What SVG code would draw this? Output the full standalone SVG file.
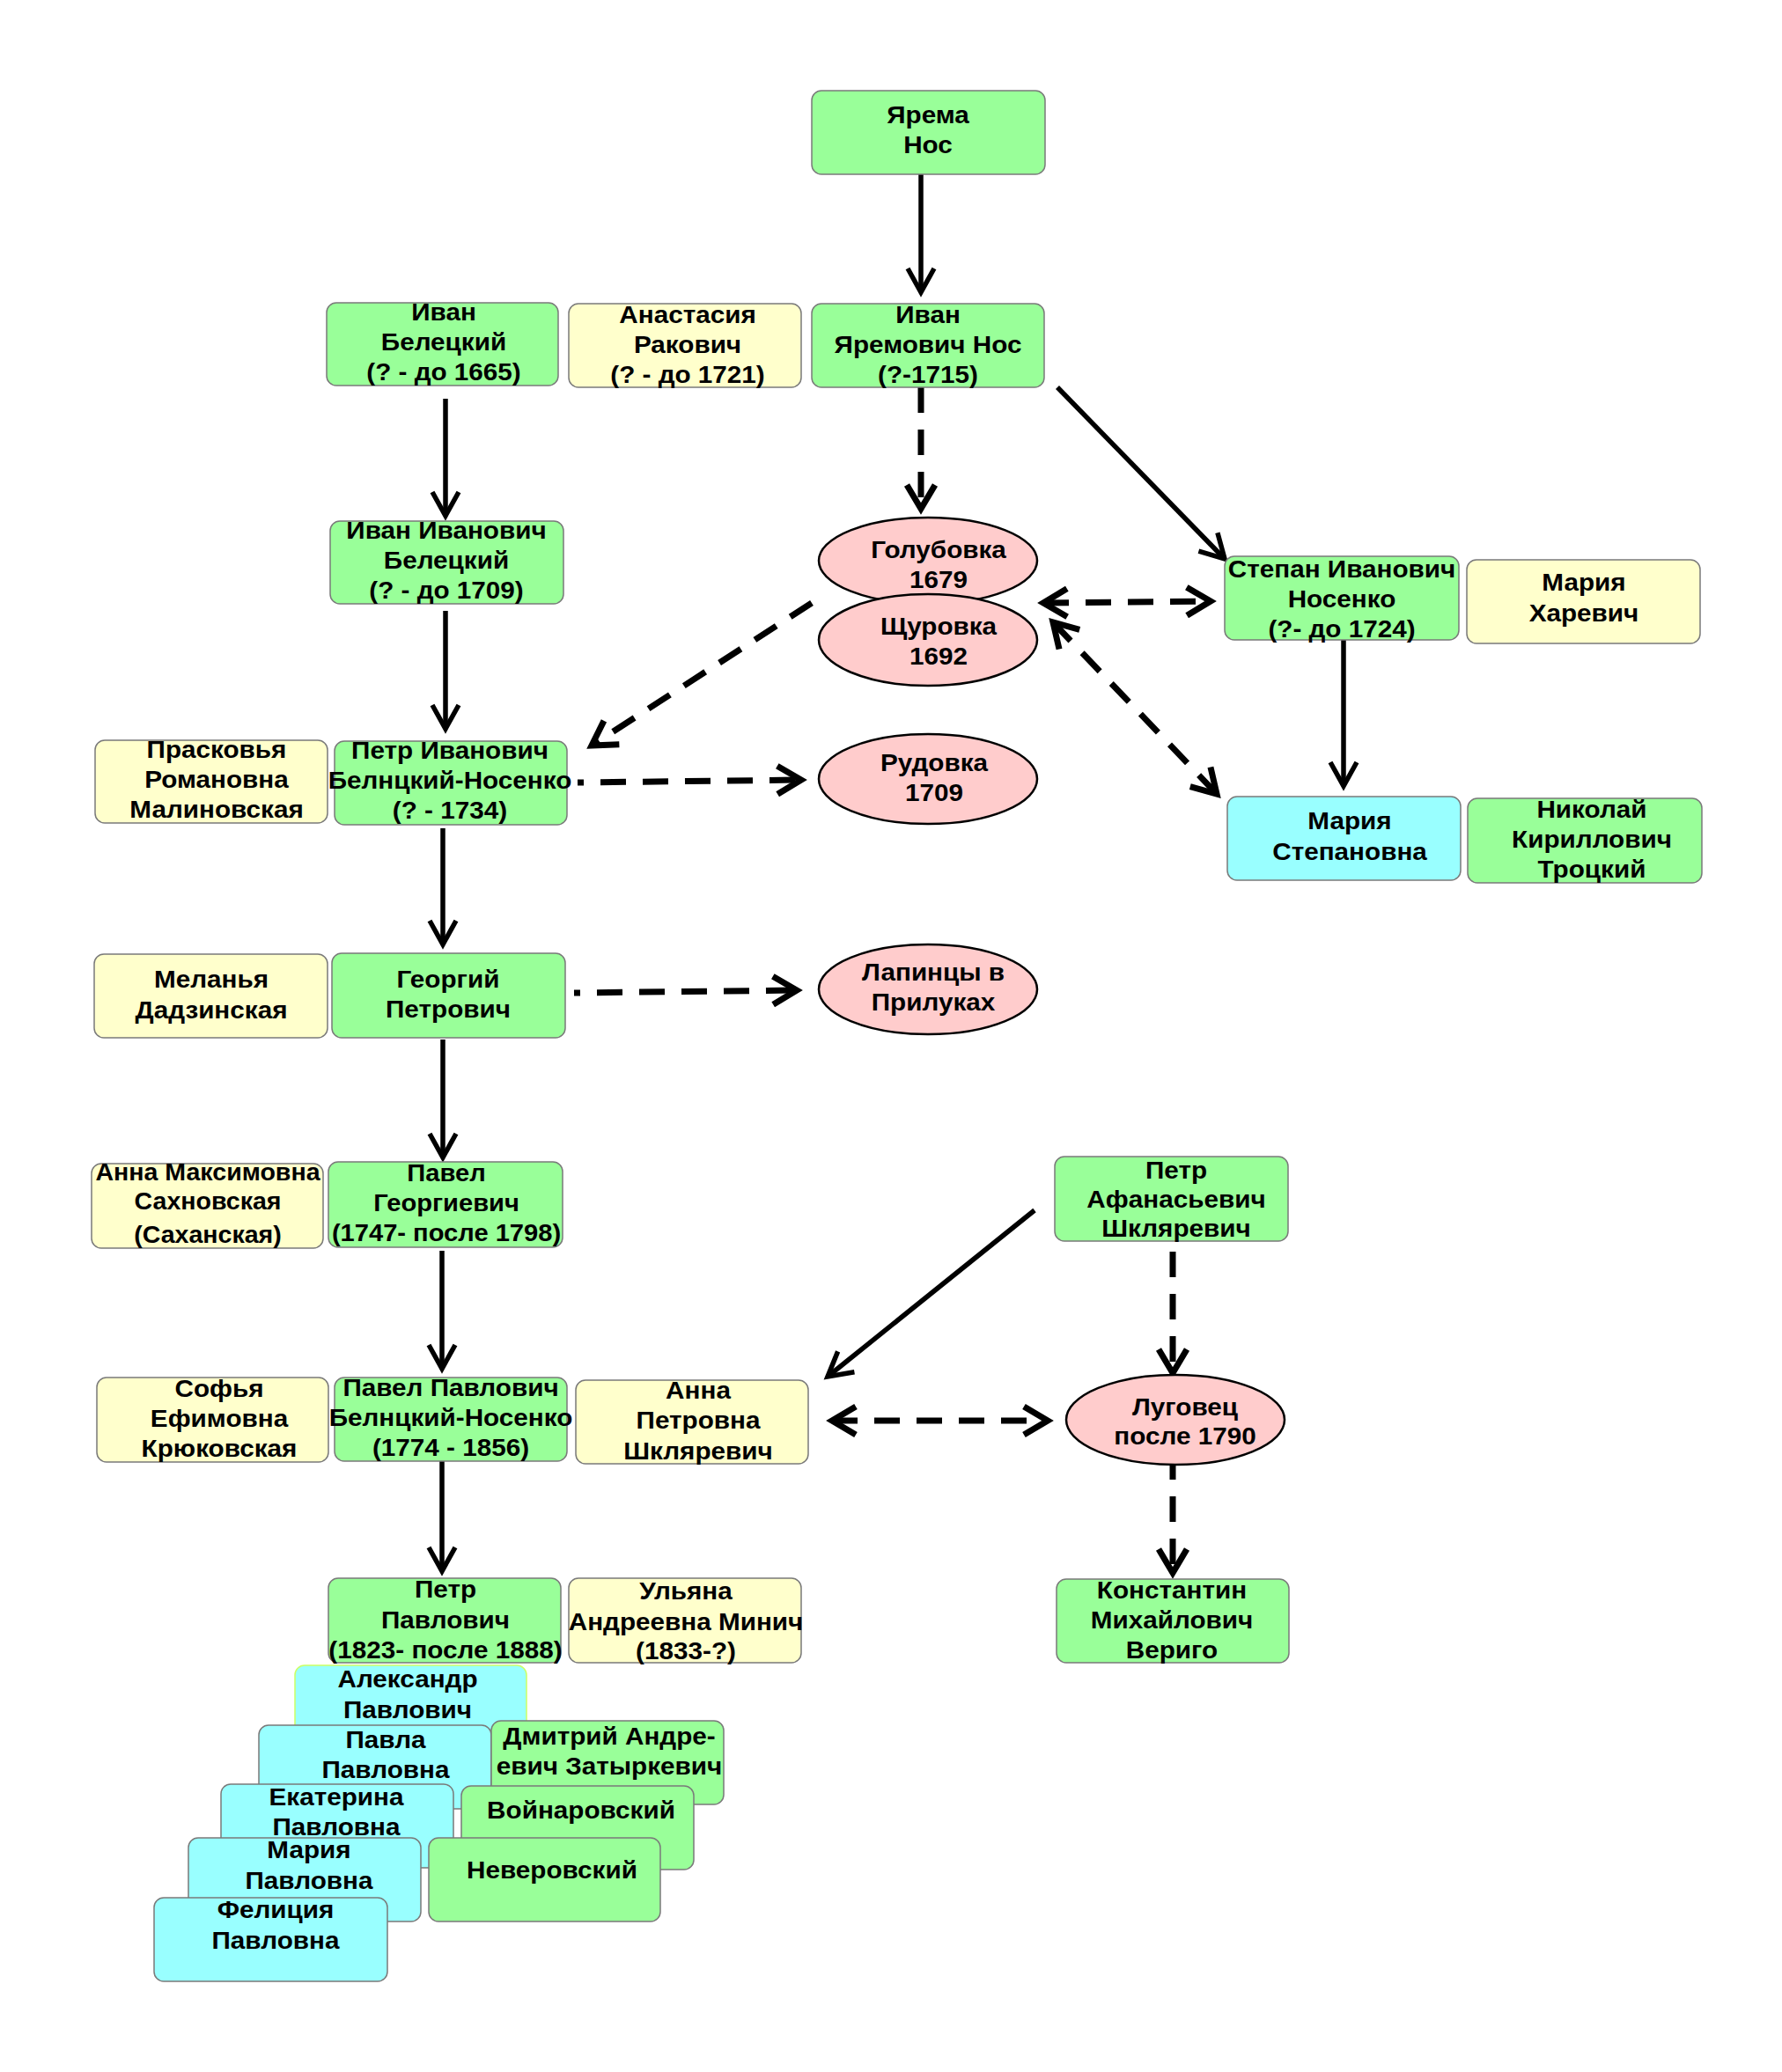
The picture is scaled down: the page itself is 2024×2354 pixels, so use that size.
<svg xmlns="http://www.w3.org/2000/svg" width="2024" height="2354" viewBox="0 0 2024 2354">
<defs>
<style>
.g{fill:#99FF99;stroke:#7a7a7a;stroke-width:1.5}
.y{fill:#FFFFCC;stroke:#7a7a7a;stroke-width:1.5}
.c{fill:#99FFFF;stroke:#7a7a7a;stroke-width:1.5}
.e{fill:#FFCCCC;stroke:#000;stroke-width:2.5}
text{font-family:"Liberation Sans",Arial,sans-serif;font-weight:bold;font-size:28px;text-anchor:middle;fill:#000}
.s{fill:none;stroke:#000;stroke-width:5.5}
.d{fill:none;stroke:#000;stroke-width:7;stroke-dasharray:29 19}
</style>
<marker id="as" markerUnits="userSpaceOnUse" orient="auto" refX="0" refY="0" markerWidth="40" markerHeight="40" overflow="visible">
<path d="M-27,-15 L0,0 L-27,15" fill="none" stroke="#000" stroke-width="5.5"/>
</marker>
<marker id="ad" markerUnits="userSpaceOnUse" orient="auto-start-reverse" refX="0" refY="0" markerWidth="40" markerHeight="40" overflow="visible">
<path d="M-27,-16 L0,0 L-27,16" fill="none" stroke="#000" stroke-width="7"/>
</marker>
</defs>
<rect width="2024" height="2354" fill="#fff"/>

<g id="connectors">
<path class="s" d="M1046,198 L1046,332" marker-end="url(#as)"/>
<path class="s" d="M506,453 L506,586" marker-end="url(#as)"/>
<path class="s" d="M506,694 L506,828" marker-end="url(#as)"/>
<path class="s" d="M1201,440 L1391,635" marker-end="url(#as)"/>
<path class="s" d="M1526,722 L1526,893" marker-end="url(#as)"/>
<path class="s" d="M503,941 L503,1073" marker-end="url(#as)"/>
<path class="s" d="M503,1181 L503,1315" marker-end="url(#as)"/>
<path class="s" d="M502,1421 L502,1555" marker-end="url(#as)"/>
<path class="s" d="M502,1654 L502,1785" marker-end="url(#as)"/>
<path class="s" d="M1175,1375 L940,1564" marker-end="url(#as)"/>
<path class="d" d="M1046,440 L1046,578" marker-end="url(#ad)"/>
<path class="d" d="M922,685 L672,847" marker-end="url(#ad)"/>
<path class="d" d="M1185,685 L1375,683" marker-start="url(#ad)" marker-end="url(#ad)"/>
<path class="d" d="M1196,707 L1382,902" marker-start="url(#ad)" marker-end="url(#ad)"/>
<path class="d" d="M656,889 L910,886" stroke-dashoffset="22" marker-end="url(#ad)"/>
<path class="d" d="M652,1128 L905,1125" stroke-dashoffset="22" marker-end="url(#ad)"/>
<path class="d" d="M1332,1422 L1332,1560" marker-end="url(#ad)"/>
<path class="d" d="M1332,1652 L1332,1787" marker-end="url(#ad)"/>
<path class="d" d="M945,1614 L1190,1614" marker-start="url(#ad)" marker-end="url(#ad)"/>
</g>

<g id="yarema"><rect class="g" x="922" y="103" width="265" height="95" rx="11"/>
<text transform="translate(1054 0) scale(1.06 1)"><tspan x="0" y="140">Ярема</tspan><tspan x="0" y="174">Нос</tspan></text></g>

<g id="ivan-beletsky"><rect class="g" x="371" y="344" width="263" height="94" rx="11"/>
<text transform="translate(504 0) scale(1.06 1)"><tspan x="0" y="364">Иван</tspan><tspan x="0" y="398">Белецкий</tspan><tspan x="0" y="432">(? - до 1665)</tspan></text></g>

<g id="anastasia"><rect class="y" x="646" y="345" width="264" height="95" rx="11"/>
<text transform="translate(781 0) scale(1.06 1)"><tspan x="0" y="367">Анастасия</tspan><tspan x="0" y="401">Ракович</tspan><tspan x="0" y="435">(? - до 1721)</tspan></text></g>

<g id="ivan-yaremovich"><rect class="g" x="922" y="345" width="264" height="95" rx="11"/>
<text transform="translate(1054 0) scale(1.06 1)"><tspan x="0" y="367">Иван</tspan><tspan x="0" y="401">Яремович Нос</tspan><tspan x="0" y="435">(?-1715)</tspan></text></g>

<g id="ivan-ivanovich"><rect class="g" x="375" y="592" width="265" height="94" rx="11"/>
<text transform="translate(507 0) scale(1.06 1)"><tspan x="0" y="612">Иван Иванович</tspan><tspan x="0" y="646">Белецкий</tspan><tspan x="0" y="680">(? - до 1709)</tspan></text></g>

<g id="praskovya"><rect class="y" x="108" y="841" width="264" height="94" rx="11"/>
<text transform="translate(246 0) scale(1.06 1)"><tspan x="0" y="861">Прасковья</tspan><tspan x="0" y="895">Романовна</tspan><tspan x="0" y="929">Малиновская</tspan></text></g>

<g id="petr-ivanovich"><rect class="g" x="380" y="842" width="264" height="95" rx="11"/>
<text transform="translate(511 0) scale(1.06 1)"><tspan x="0" y="862">Петр Иванович</tspan><tspan x="0" y="896">Белнцкий-Носенко</tspan><tspan x="0" y="930">(? - 1734)</tspan></text></g>

<g id="golubovka"><ellipse class="e" cx="1054" cy="637" rx="124" ry="49"/>
<text transform="translate(1066 0) scale(1.06 1)"><tspan x="0" y="634">Голубовка</tspan><tspan x="0" y="668">1679</tspan></text></g>

<g id="schurovka"><ellipse class="e" cx="1054" cy="727" rx="124" ry="52"/>
<text transform="translate(1066 0) scale(1.06 1)"><tspan x="0" y="721">Щуровка</tspan><tspan x="0" y="755">1692</tspan></text></g>

<g id="stepan"><rect class="g" x="1391" y="632" width="266" height="95" rx="11"/>
<text transform="translate(1524 0) scale(1.06 1)"><tspan x="0" y="656">Степан Иванович</tspan><tspan x="0" y="690">Носенко</tspan><tspan x="0" y="724">(?- до 1724)</tspan></text></g>

<g id="maria-kharevich"><rect class="y" x="1666" y="636" width="265" height="95" rx="11"/>
<text transform="translate(1799 0) scale(1.06 1)"><tspan x="0" y="671">Мария</tspan><tspan x="0" y="706">Харевич</tspan></text></g>

<g id="rudovka"><ellipse class="e" cx="1054" cy="885" rx="124" ry="51"/>
<text transform="translate(1061 0) scale(1.06 1)"><tspan x="0" y="876">Рудовка</tspan><tspan x="0" y="910">1709</tspan></text></g>

<g id="maria-stepanovna"><rect class="c" x="1394" y="905" width="265" height="95" rx="11"/>
<text transform="translate(1533 0) scale(1.06 1)"><tspan x="0" y="942">Мария</tspan><tspan x="0" y="977">Степановна</tspan></text></g>

<g id="nikolay"><rect class="g" x="1667" y="907" width="266" height="96" rx="11"/>
<text transform="translate(1808 0) scale(1.06 1)"><tspan x="0" y="929">Николай</tspan><tspan x="0" y="963">Кириллович</tspan><tspan x="0" y="997">Троцкий</tspan></text></g>

<g id="melanya"><rect class="y" x="107" y="1084" width="265" height="95" rx="11"/>
<text transform="translate(240 0) scale(1.06 1)"><tspan x="0" y="1122">Меланья</tspan><tspan x="0" y="1157">Дадзинская</tspan></text></g>

<g id="georgiy"><rect class="g" x="377" y="1083" width="265" height="96" rx="11"/>
<text transform="translate(509 0) scale(1.06 1)"><tspan x="0" y="1122">Георгий</tspan><tspan x="0" y="1156">Петрович</tspan></text></g>

<g id="lapintsy"><ellipse class="e" cx="1054" cy="1124" rx="124" ry="51"/>
<text transform="translate(1060 0) scale(1.06 1)"><tspan x="0" y="1114">Лапинцы в</tspan><tspan x="0" y="1148">Прилуках</tspan></text></g>

<g id="anna-maksimovna"><rect class="y" x="104" y="1322" width="263" height="96" rx="11"/>
<text transform="translate(236 0) scale(1.02 1)"><tspan x="0" y="1341">Анна Максимовна</tspan><tspan x="0" y="1374">Сахновская</tspan></text>
<text transform="translate(236 0) scale(1.02 1)" x="0" y="1412">(Саханская)</text></g>

<g id="pavel-georgievich"><rect class="g" x="373" y="1320" width="266" height="97" rx="11"/>
<text transform="translate(507 0) scale(1.04 1)"><tspan x="0" y="1342">Павел</tspan><tspan x="0" y="1376">Георгиевич</tspan><tspan x="0" y="1410">(1747- после 1798)</tspan></text></g>

<g id="sofya"><rect class="y" x="110" y="1565" width="263" height="96" rx="11"/>
<text transform="translate(249 0) scale(1.06 1)"><tspan x="0" y="1587">Софья</tspan><tspan x="0" y="1621">Ефимовна</tspan><tspan x="0" y="1655">Крюковская</tspan></text></g>

<g id="pavel-pavlovich"><rect class="g" x="380" y="1565" width="264" height="95" rx="11"/>
<text transform="translate(512 0) scale(1.06 1)"><tspan x="0" y="1586">Павел Павлович</tspan><tspan x="0" y="1620">Белнцкий-Носенко</tspan><tspan x="0" y="1654">(1774 - 1856)</tspan></text></g>

<g id="anna-petrovna"><rect class="y" x="654" y="1568" width="264" height="95" rx="11"/>
<text transform="translate(793 0) scale(1.06 1)"><tspan x="0" y="1589">Анна</tspan><tspan x="0" y="1623">Петровна</tspan><tspan x="0" y="1658">Шкляревич</tspan></text></g>

<g id="petr-afanasyevich"><rect class="g" x="1198" y="1314" width="265" height="96" rx="11"/>
<text transform="translate(1336 0) scale(1.06 1)"><tspan x="0" y="1339">Петр</tspan><tspan x="0" y="1372">Афанасьевич</tspan><tspan x="0" y="1405">Шкляревич</tspan></text></g>

<g id="lugovets"><ellipse class="e" cx="1335" cy="1613" rx="124" ry="51"/>
<text transform="translate(1346 0) scale(1.06 1)"><tspan x="0" y="1608">Луговец</tspan><tspan x="0" y="1641">после 1790</tspan></text></g>

<g id="konstantin"><rect class="g" x="1200" y="1794" width="264" height="95" rx="11"/>
<text transform="translate(1331 0) scale(1.06 1)"><tspan x="0" y="1816">Константин</tspan><tspan x="0" y="1850">Михайлович</tspan><tspan x="0" y="1884">Вериго</tspan></text></g>

<g id="petr-pavlovich"><rect class="g" x="373" y="1793" width="264" height="96" rx="11"/>
<text transform="translate(506 0) scale(1.06 1)"><tspan x="0" y="1815">Петр</tspan><tspan x="0" y="1850">Павлович</tspan><tspan x="0" y="1884">(1823- после 1888)</tspan></text></g>

<g id="ulyana"><rect class="y" x="646" y="1793" width="264" height="96" rx="11"/>
<text transform="translate(779 0) scale(1.06 1)"><tspan x="0" y="1817">Ульяна</tspan><tspan x="0" y="1852">Андреевна Минич</tspan><tspan x="0" y="1885">(1833-?)</tspan></text></g>

<g id="aleksandr"><rect class="c" x="335" y="1892" width="263" height="95" rx="11" style="stroke:#ccff66"/>
<text transform="translate(463 0) scale(1.06 1)"><tspan x="0" y="1917">Александр</tspan><tspan x="0" y="1952">Павлович</tspan></text></g>

<g id="pavla"><rect class="c" x="294" y="1960" width="264" height="95" rx="11"/>
<text transform="translate(438 0) scale(1.06 1)"><tspan x="0" y="1986">Павла</tspan><tspan x="0" y="2020">Павловна</tspan></text></g>

<g id="dmitriy"><rect class="g" x="558" y="1955" width="264" height="95" rx="11"/>
<text transform="translate(692 0) scale(1.06 1)"><tspan x="0" y="1982">Дмитрий Андре-</tspan><tspan x="0" y="2016">евич Затыркевич</tspan></text></g>

<g id="ekaterina"><rect class="c" x="251" y="2027" width="264" height="95" rx="11"/>
<text transform="translate(382 0) scale(1.06 1)"><tspan x="0" y="2051">Екатерина</tspan><tspan x="0" y="2085">Павловна</tspan></text></g>

<g id="voynarovsky"><rect class="g" x="524" y="2029" width="264" height="95" rx="11"/>
<text transform="translate(660 0) scale(1.06 1)"><tspan x="0" y="2066">Войнаровский</tspan></text></g>

<g id="maria-pavlovna"><rect class="c" x="214" y="2088" width="264" height="95" rx="11"/>
<text transform="translate(351 0) scale(1.06 1)"><tspan x="0" y="2111">Мария</tspan><tspan x="0" y="2146">Павловна</tspan></text></g>

<g id="neverovsky"><rect class="g" x="487" y="2088" width="263" height="95" rx="11"/>
<text transform="translate(627 0) scale(1.06 1)"><tspan x="0" y="2134">Неверовский</tspan></text></g>

<g id="felitsiya"><rect class="c" x="175" y="2156" width="265" height="95" rx="11"/>
<text transform="translate(313 0) scale(1.06 1)"><tspan x="0" y="2179">Фелиция</tspan><tspan x="0" y="2214">Павловна</tspan></text></g>
</svg>
